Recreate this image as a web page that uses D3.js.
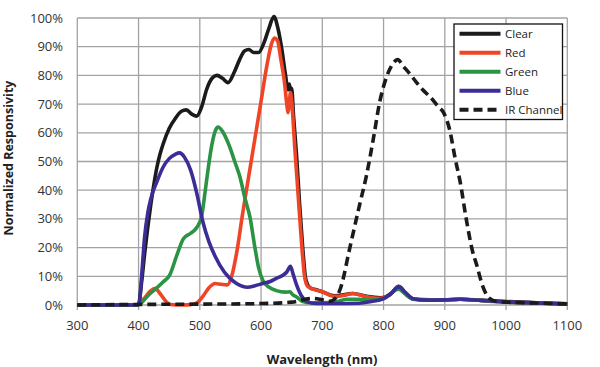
<!DOCTYPE html>
<html><head><meta charset="utf-8">
<script src="https://cdn.jsdelivr.net/npm/d3@7"></script>
<style>
body{margin:0;background:#fff;}
text{font-family:"Open Sans",sans-serif;}
</style></head>
<body><svg id="c" width="600" height="367"></svg>
<script>
const xTicks = [300,400,500,600,700,800,900,1000,1100];
const yTicks = [0,10,20,30,40,50,60,70,80,90,100];
const seriesNames = ["Clear","Red","Green","Blue","IR Channel"];

const clearWl  = [300,350,395,400,405,410,415,420,425,430,435,440,450,460,470,478,487,495,503,511,520,528,537,546,556,565,573,580,588,596,605,613,621,628,634,640,644,646,648,650,653,658,663,668,673,680,690,700,720,750,772,795,810,825,840,850,900,925,960,1000,1050,1100];
const clearVal = [0,0,0,0.3,8,18,27,35,42,48,52.5,56,61.5,65,67.5,68,66.5,65.8,69,75,79,80,79,77.5,81,85.5,88.5,89,88,88,91.5,96.5,100.5,96,89,80,75,77,75,75.5,66,52,35,20,9,6,5.3,4.6,3.2,4,3,2.5,3.5,6.5,3,2,1.8,2,1.6,1.2,0.8,0.4];

const redWl  = [300,398,402,410,420,427,435,445,452,470,490,497,505,515,525,535,545,552,560,570,580,590,600,610,617,622,627,632,638,642,644,646,648,650,655,660,666,671,676,685,700,720,735,750,772,795,812,824,835,848,870,900,925,960,980,1000,1050,1100];
const redVal = [0,0,0.5,2.5,5,5.8,4,1.2,0.2,0,0.3,1,3,6,7.5,7.2,7,10,18,32,45,58,71,84,91,93,92,86,78,70,67,70,74,71,55,40,22,10,6.5,5.5,4.6,3,3.3,4,2.9,2.3,4,6.3,4,2.2,1.7,1.7,2,1.6,1.2,1,0.7,0.3];

const greenWl  = [300,398,402,410,419,430,440,451,462,473,485,495,503,509,514,519,525,530,537,549,557,565,574,582,590,596,603,613,625,640,647,652,658,668,680,700,720,740,760,780,800,812,824,835,848,870,900,925,960,1000,1050,1100];
const greenVal = [0,0,0.3,2,4,6,8,10.5,17,23,25,27,31,40,48,55,60.5,62,60.5,55,50,45,37,30.5,20,13,8.5,6.2,5,4.5,4.6,3.5,2.8,1.2,0.8,0.8,1,2,2,1.7,2.2,4,5.5,4,2,1.7,1.7,2,1.6,1,0.7,0.3];

const blueWl  = [300,398,401,405,410,415,420,430,440,450,460,467,475,485,495,505,515,525,540,560,578,590,603,615,625,635,642,648,652,658,665,675,690,720,760,780,800,812,825,835,848,870,900,925,960,1000,1050,1100];
const blueVal = [0,0,0.5,10,24,32,37,43,48,51,52.5,53,51.5,47,39,29,22,17,11.5,7.5,6.2,6.7,7.5,8.2,9.3,10.3,11.5,13.5,11,7,3.5,1.2,0.5,0.5,0.6,1.2,2.2,4,6.3,4.5,2.2,1.7,1.8,2,1.6,1.1,0.7,0.3];

const irWl  = [300,400,500,600,650,685,700,712,722,730,745,761,772,783,794,805,815,823,833,843,854,864,876,890,898,908,917,925,935,945,952,962,973,985,1000,1050,1100];
const irVal = [0,0.2,0.3,0.5,1,2.3,1.8,1.3,2.5,6,20,35,45,57.5,71,79.5,84,85.5,83,80.5,77.5,75,72.5,69,67,61,51,43,30,19,14,6.5,2.3,1.2,1,0.7,0.4];

const colors = {"Clear":"#1b1b1b","Red":"#ef4526","Green":"#2b9444","Blue":"#3b2d96","IR Channel":"#1b1b1b"};

const svg = d3.select("#c");
const x = d3.scaleLinear().domain([300,1100]).range([77.3,567.3]);
const y = d3.scaleLinear().domain([0,100]).range([305,18]);

const grid = svg.append("g");
grid.selectAll("line.v").data(xTicks).join("line")
  .attr("x1",d=>x(d)).attr("x2",d=>x(d)).attr("y1",y(100)).attr("y2",y(0)+5)
  .attr("stroke","#a3a3a3").attr("stroke-width",1.3);
grid.selectAll("line.h").data(yTicks).join("line")
  .attr("x1",x(300)).attr("x2",x(1100)).attr("y1",d=>y(d)).attr("y2",d=>y(d))
  .attr("stroke","#a3a3a3").attr("stroke-width",1.3);

svg.append("g").selectAll("text").data(yTicks).join("text")
  .attr("x",63).attr("y",d=>y(d)+4.5).attr("text-anchor","end")
  .attr("font-size",13).attr("fill","#333").text(d=>d+"%");
svg.append("g").selectAll("text").data(xTicks).join("text")
  .attr("x",d=>x(d)).attr("y",330).attr("text-anchor","middle")
  .attr("font-size",13).attr("fill","#333").text(d=>d);

svg.append("text").attr("x",322).attr("y",364).attr("text-anchor","middle")
  .attr("font-size",13).attr("font-weight","bold").attr("fill","#222").text("Wavelength (nm)");
svg.append("text").attr("transform","translate(13,158) rotate(-90)").attr("text-anchor","middle")
  .attr("font-size",12.5).attr("font-weight","bold").attr("fill","#222").text("Normalized Responsivity");

const line = d3.line().x(d=>x(d[0])).y(d=>y(d[1])).curve(d3.curveMonotoneX);
const series = [
  {name:"Clear", wl:clearWl, v:clearVal},
  {name:"Red", wl:redWl, v:redVal},
  {name:"Green", wl:greenWl, v:greenVal},
  {name:"Blue", wl:blueWl, v:blueVal},
  {name:"IR Channel", wl:irWl, v:irVal}
];
const plot = svg.append("g");
series.forEach(s=>{
  plot.append("path").datum(s.wl.map((w,i)=>[w,s.v[i]]))
    .attr("d",line).attr("fill","none").attr("stroke",colors[s.name])
    .attr("stroke-width",3.6).attr("stroke-linejoin","round")
    .attr("stroke-dasharray", s.name==="IR Channel" ? "9,5" : null);
});

const lg = svg.append("g");
lg.append("rect").attr("x",454).attr("y",24).attr("width",108.5).attr("height",95.5)
  .attr("fill","#fff").attr("stroke","#111").attr("stroke-width",1.3);
seriesNames.forEach((n,i)=>{
  const yy = 33.7 + i*19;
  lg.append("line").attr("x1",459.5).attr("x2",500.5).attr("y1",yy).attr("y2",yy)
    .attr("stroke",colors[n]).attr("stroke-width",4)
    .attr("stroke-dasharray", n==="IR Channel" ? "9,5" : null);
  lg.append("text").attr("x",505).attr("y",yy+4.2).attr("font-size",11.5).attr("fill","#222").text(n);
});
</script></body></html>
